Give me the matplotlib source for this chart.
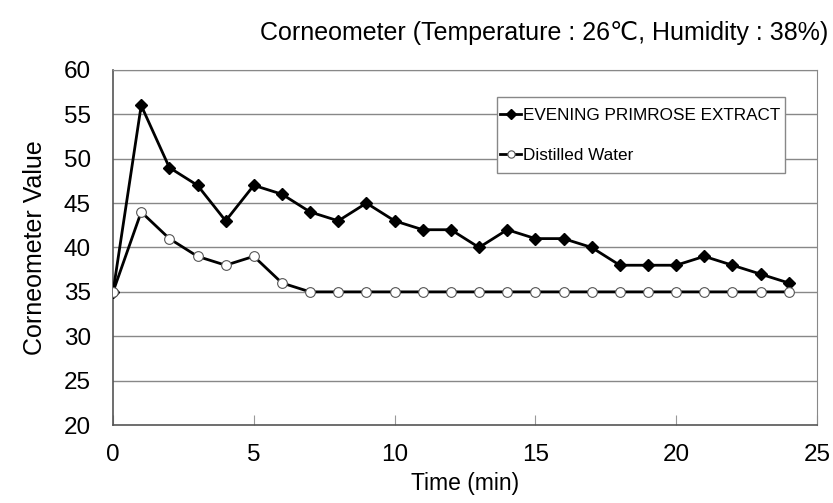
import matplotlib
matplotlib.use("Agg")
import matplotlib.pyplot as plt
from matplotlib.patches import Rectangle

plt.rcParams['font.family'] = ['Liberation Sans', 'DejaVu Sans']

# data
time_min = list(range(0, 25))
primrose = [35, 56, 49, 47, 43, 47, 46, 44, 43, 45, 43, 42, 42, 40, 42,
            41, 41, 40, 38, 38, 38, 39, 38, 37, 36]
water = [35, 44, 41, 39, 38, 39, 36, 35, 35, 35, 35, 35, 35, 35, 35,
         35, 35, 35, 35, 35, 35, 35, 35, 35, 35]
y_ticks = [20, 25, 30, 35, 40, 45, 50, 55, 60]
x_ticks = [0, 5, 10, 15, 20, 25]

fig = plt.figure(figsize=(8.33, 5.03), dpi=100)
ax = fig.add_axes([0.1357, 0.155, 0.845, 0.706])

for y in y_ticks[1:]:
    ax.axhline(y, color='#888888', lw=1, zorder=0)

ax.plot(time_min, primrose, color='black', lw=2, marker='D', markersize=6.5,
        markerfacecolor='black', markeredgecolor='black',
        label='EVENING PRIMROSE EXTRACT', zorder=3)
ax.plot(time_min, water, color='black', lw=2, marker='o', markersize=7,
        markerfacecolor='white', markeredgecolor='#555555', markeredgewidth=0.8,
        label='Distilled Water', zorder=3)

ax.set_xlim(0, 25)
ax.set_ylim(20, 60)
ax.set_xticks(x_ticks)
ax.set_yticks(y_ticks)
ax.tick_params(axis='y', labelsize=17.5, length=0, pad=16)
ax.tick_params(axis='x', labelsize=17.5, length=7, direction='in',
               color='#999999', pad=14)
for s in ['left', 'bottom']:
    ax.spines[s].set_color('#555555')
    ax.spines[s].set_linewidth(1.2)
for s in ['top', 'right']:
    ax.spines[s].set_color('#888888')

ax.set_xlabel('Time (min)', fontsize=16.5, labelpad=4)
ax.set_ylabel('Corneometer Value', fontsize=18, labelpad=12)
fig.text(0.994, 0.935, 'Corneometer (Temperature : 26℃, Humidity : 38%)',
         ha='right', va='center', fontsize=18)

# legend box drawn separately so it can be taller than the entries need
ax.add_patch(Rectangle((0.5455, 0.710), 0.409, 0.214, transform=ax.transAxes,
                       facecolor='white', edgecolor='#888888', lw=1, zorder=4))
leg = ax.legend(loc='center left', bbox_to_anchor=(0.5455, 0.816), fontsize=12.3,
                frameon=False, handlelength=1.2, handletextpad=0.1,
                labelspacing=1.45, borderpad=0.2, borderaxespad=0,
                markerscale=0.75)
leg.set_zorder(5)

fig.savefig('out.png', dpi=100)
